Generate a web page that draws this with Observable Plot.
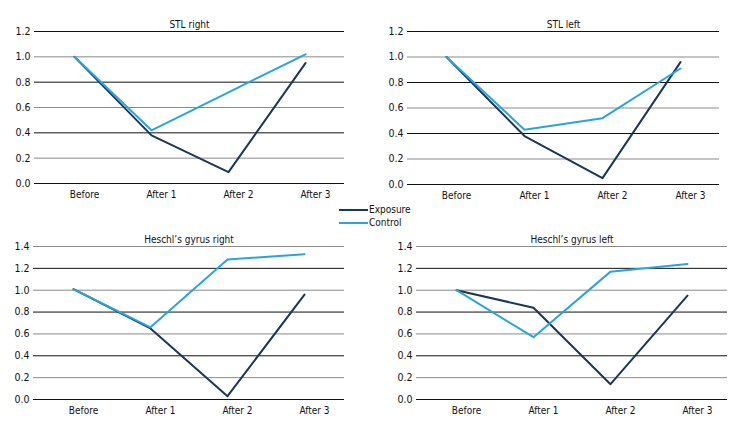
<!DOCTYPE html>
<html>
<head>
<meta charset="utf-8">
<script src="https://cdn.jsdelivr.net/npm/d3@7"></script>
<script src="https://cdn.jsdelivr.net/npm/@observablehq/plot@0.6"></script>
<style>
  html, body { margin: 0; padding: 0; background: #fff; }
  #wrap { position: relative; width: 744px; height: 432px; overflow: hidden;
          font-family: "DejaVu Sans Condensed", "Liberation Sans Narrow", sans-serif; font-stretch: condensed; }
  .panel { position: absolute; }
  #legend { position: absolute; left: 339px; top: 203px; font-size: 10px; color: #111; line-height: 13px; }
  #legend .row { display: flex; align-items: center; }
  #legend .sw { width: 29px; height: 2px; margin-right: 1px; }
</style>
</head>
<body>
<div id="wrap"></div>
<script>
const categories = ["Before", "After 1", "After 2", "After 3"];
const seriesNames = ["Exposure", "Control"];
const seriesColors = ["#1b3657", "#2aa5dc"];

const stlRightExposure = [1.0, 0.38, 0.09, 0.95];
const stlRightControl  = [1.0, 0.42, 0.72, 1.02];
const stlLeftExposure  = [1.0, 0.38, 0.05, 0.96];
const stlLeftControl   = [1.0, 0.43, 0.52, 0.91];
const heschlRightExposure = [1.01, 0.65, 0.03, 0.96];
const heschlRightControl  = [1.01, 0.66, 1.28, 1.33];
const heschlLeftExposure  = [1.0, 0.84, 0.14, 0.95];
const heschlLeftControl   = [1.0, 0.57, 1.17, 1.24];

const ticksSmall = [0, 0.2, 0.4, 0.6, 0.8, 1.0, 1.2];
const ticksLarge = [0, 0.2, 0.4, 0.6, 0.8, 1.0, 1.2, 1.4];

const panels = [
  {title: "STL right", exp: stlRightExposure, ctl: stlRightControl, ticks: ticksSmall,
   left: 0, top: 0, height: 210, mt: 31, mb: 27, ml: 34, mr: 28},
  {title: "STL left", exp: stlLeftExposure, ctl: stlLeftControl, ticks: ticksSmall,
   left: 372, top: 0, height: 210, mt: 31, mb: 26, ml: 35, mr: 25},
  {title: "Heschl\u2019s gyrus right", exp: heschlRightExposure, ctl: heschlRightControl, ticks: ticksLarge,
   left: 0, top: 210, height: 222, mt: 36, mb: 33, ml: 33, mr: 28},
  {title: "Heschl\u2019s gyrus left", exp: heschlLeftExposure, ctl: heschlLeftControl, ticks: ticksLarge,
   left: 372, top: 210, height: 222, mt: 36, mb: 33, ml: 44, mr: 17}
];

const wrap = document.getElementById("wrap");
const fontFam = "DejaVu Sans Condensed, Liberation Sans Narrow, sans-serif";

for (const p of panels) {
  const data = [];
  categories.forEach((c, i) => {
    data.push({cat: c, value: p.exp[i], series: seriesNames[0]});
  });
  categories.forEach((c, i) => {
    data.push({cat: c, value: p.ctl[i], series: seriesNames[1]});
  });
  const even = p.ticks.filter((d, i) => i % 2 === 0);
  const odd = p.ticks.filter((d, i) => i % 2 === 1);
  const chart = Plot.plot({
    width: 372,
    height: p.height,
    marginTop: p.mt,
    marginBottom: p.mb,
    marginLeft: p.ml,
    marginRight: p.mr,
    style: {fontFamily: fontFam, fontStretch: "condensed", fontSize: "10px", color: "#111", background: "transparent"},
    x: {type: "point", domain: categories, padding: 0.5},
    y: {domain: [0, p.ticks[p.ticks.length - 1]]},
    color: {domain: seriesNames, range: seriesColors},
    marks: [
      Plot.ruleY(even, {stroke: "#111", strokeWidth: 1}),
      Plot.ruleY(odd, {stroke: "#8a8a8a", strokeWidth: 1}),
      Plot.axisY({ticks: p.ticks, tickSize: 0, tickPadding: 4, tickFormat: d3.format(".1f"), label: null, fill: "#111", fontSize: 10.5}),
      Plot.axisX({tickSize: 0, tickPadding: 7, dx: 10, label: null, fill: "#111", fontSize: 10}),
      Plot.line(data, {x: "cat", y: "value", z: "series", stroke: "series", strokeWidth: 2}),
      Plot.text([p.title], {frameAnchor: "top", dy: -11, text: d => d, fontSize: 10, fill: "#111"})
    ]
  });
  chart.classList.add("panel");
  chart.style.left = p.left + "px";
  chart.style.top = p.top + "px";
  wrap.appendChild(chart);
}

const legend = document.createElement("div");
legend.id = "legend";
seriesNames.forEach((n, i) => {
  const row = document.createElement("div");
  row.className = "row";
  const sw = document.createElement("span");
  sw.className = "sw";
  sw.style.background = seriesColors[i];
  const lab = document.createElement("span");
  lab.textContent = n;
  row.appendChild(sw);
  row.appendChild(lab);
  legend.appendChild(row);
});
wrap.appendChild(legend);
</script>
</body>
</html>
